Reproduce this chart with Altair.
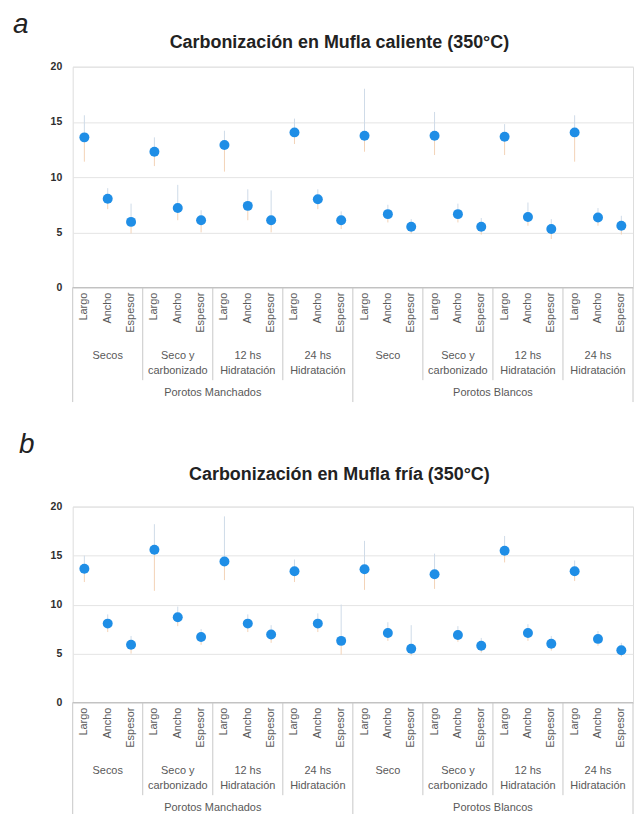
import altair as alt
import pandas as pd

FONT = "Liberation Sans"

# ---------------- data ----------------
medidas = ["Largo", "Ancho", "Espesor"]
tratamientos = ["Secos", "Seco y\ncarbonizado", "12 hs\nHidratación", "24 hs\nHidratación",
                "Seco", "Seco y\ncarbonizado", "12 hs\nHidratación", "24 hs\nHidratación"]
grupos = ["Porotos Manchados", "Porotos Blancos"]

# (a) Mufla caliente
val_a = [13.6, 8.05, 5.95, 12.3, 7.2, 6.1, 12.9, 7.4, 6.1, 14.05, 8.0, 6.1,
         13.75, 6.65, 5.5, 13.75, 6.65, 5.5, 13.65, 6.4, 5.3, 14.05, 6.35, 5.6]
low_a = [11.4, 7.1, 4.9, 11.0, 6.1, 5.0, 10.5, 6.1, 5.0, 13.0, 7.1, 5.3,
         12.3, 5.9, 4.9, 12.0, 5.9, 4.8, 12.0, 5.6, 4.4, 11.4, 5.6, 4.8]
high_a = [15.6, 9.0, 7.6, 13.6, 9.3, 7.0, 14.2, 8.9, 8.8, 15.3, 8.9, 6.9,
          18.0, 7.5, 6.2, 15.9, 7.6, 6.3, 14.8, 7.7, 6.2, 15.6, 7.2, 6.5]

# (b) Mufla fría
val_b = [13.65, 8.06, 5.9, 15.6, 8.7, 6.7, 14.4, 8.06, 6.95, 13.4, 8.06, 6.3,
         13.6, 7.1, 5.5, 13.1, 6.9, 5.8, 15.5, 7.1, 6.0, 13.4, 6.5, 5.35]
low_b = [12.3, 7.2, 5.0, 11.4, 7.8, 5.9, 12.5, 7.2, 6.1, 12.3, 7.2, 4.9,
         11.5, 6.3, 4.8, 11.6, 6.2, 5.1, 14.3, 6.3, 5.3, 12.4, 5.8, 4.7]
high_b = [15.0, 9.0, 6.8, 18.2, 9.8, 7.5, 19.0, 9.0, 7.9, 14.6, 9.1, 10.0,
          16.5, 8.2, 7.9, 15.2, 7.8, 6.6, 17.0, 8.0, 6.8, 14.5, 7.3, 6.1]

y_ticks = [0, 5, 10, 15, 20]

W = 563
LABEL_COLOR = "#595959"


def panel(vals, lows, highs, h, title, letter, title_y, letter_x, letter_y):
    n = len(vals)
    df = pd.DataFrame({
        "i": list(range(n)),
        "v": vals, "lo": lows, "hi": highs,
        "cat": medidas * (n // len(medidas)),
    })
    xs = alt.Scale(domain=[-0.5, n - 0.5], nice=False, zero=False)
    ys = alt.Scale(domain=[0, 20], nice=False)
    yax = alt.Axis(values=y_ticks, ticks=False, domain=False, grid=True,
                   gridColor="#e4e4e4", labelPadding=11, labelFontSize=10.5,
                   labelFontWeight="bold", labelColor="#2e2e2e", title=None)

    base = alt.Chart(df)
    err_lo = base.mark_rule(color="#f3d3b6", strokeWidth=1).encode(
        x=alt.X("i:Q", scale=xs, axis=None),
        y=alt.Y("lo:Q", scale=ys, axis=yax), y2="v:Q")
    err_hi = base.mark_rule(color="#cfdbe8", strokeWidth=1).encode(
        x=alt.X("i:Q", scale=xs, axis=None),
        y=alt.Y("v:Q", scale=ys, axis=yax), y2="hi:Q")
    pts = base.mark_circle(size=100, color="#1f8ee6", opacity=1).encode(
        x=alt.X("i:Q", scale=xs, axis=None),
        y=alt.Y("v:Q", scale=ys, axis=yax))

    cat_txt = base.mark_text(angle=270, align="right", baseline="middle",
                             fontSize=11, color=LABEL_COLOR, font=FONT).encode(
        x=alt.X("i:Q", scale=xs, axis=None), y=alt.value(h + 5), text="cat:N")

    k = len(medidas)
    sub_df = pd.DataFrame({"c": [k * j + (k - 1) / 2 for j in range(len(tratamientos))],
                           "t": tratamientos})
    sub_txt = alt.Chart(sub_df).mark_text(baseline="top", fontSize=11, lineBreak="\n",
                                          lineHeight=15, color=LABEL_COLOR, font=FONT).encode(
        x=alt.X("c:Q", scale=xs, axis=None), y=alt.value(h + 63), text="t:N")

    per_g = n // len(grupos)
    grp_df = pd.DataFrame({"c": [per_g * j + (per_g - 1) / 2 for j in range(len(grupos))],
                           "t": grupos})
    grp_txt = alt.Chart(grp_df).mark_text(baseline="middle", fontSize=11,
                                          color=LABEL_COLOR, font=FONT).encode(
        x=alt.X("c:Q", scale=xs, axis=None), y=alt.value(h + 106), text="t:N")

    short_b = [k * j - 0.5 for j in range(1, n // k) if (k * j) % per_g != 0]
    long_b = [-0.5] + [per_g * j - 0.5 for j in range(1, len(grupos))] + [n - 0.5]
    sep_short = alt.Chart(pd.DataFrame({"b": short_b})).mark_rule(
        color="#c8c8c8", strokeWidth=1).encode(
        x=alt.X("b:Q", scale=xs, axis=None), y=alt.value(h), y2=alt.value(h + 93))
    sep_long = alt.Chart(pd.DataFrame({"b": long_b})).mark_rule(
        color="#c8c8c8", strokeWidth=1).encode(
        x=alt.X("b:Q", scale=xs, axis=None), y=alt.value(h), y2=alt.value(h + 115))
    box_top = alt.Chart(pd.DataFrame({"b": [0]})).mark_rule(
        color="#bdbdbd", strokeWidth=1).encode(
        x=alt.value(0), x2=alt.value(W), y=alt.value(h))

    ttl = alt.Chart(pd.DataFrame({"t": [title]})).mark_text(
        fontSize=18, fontWeight="bold", color="#222222", font=FONT,
        baseline="middle", align="center").encode(
        x=alt.value(268), y=alt.value(title_y), text="t:N")
    let = alt.Chart(pd.DataFrame({"t": [letter]})).mark_text(
        fontSize=28, fontStyle="italic", color="#222222", font=FONT,
        baseline="alphabetic", align="left").encode(
        x=alt.value(letter_x), y=alt.value(letter_y), text="t:N")

    return alt.layer(err_lo, err_hi, pts, box_top, sep_short, sep_long,
                     cat_txt, sub_txt, grp_txt, ttl, let).properties(width=W, height=h)


top = panel(val_a, low_a, high_a, 222, "Carbonización en Mufla caliente (350°C)", "a",
            -24, -60, -34)
bottom = panel(val_b, low_b, high_b, 197, "Carbonización en Mufla fría (350°C)", "b",
               -32, -54, -54)

chart = alt.vconcat(top, bottom, spacing=27).properties(
    padding={"left": 4, "top": 0, "right": 0, "bottom": 0}
).configure_view(stroke=None).configure(font=FONT)

chart.save("out.html", embed_options={"renderer": "svg", "actions": False})
